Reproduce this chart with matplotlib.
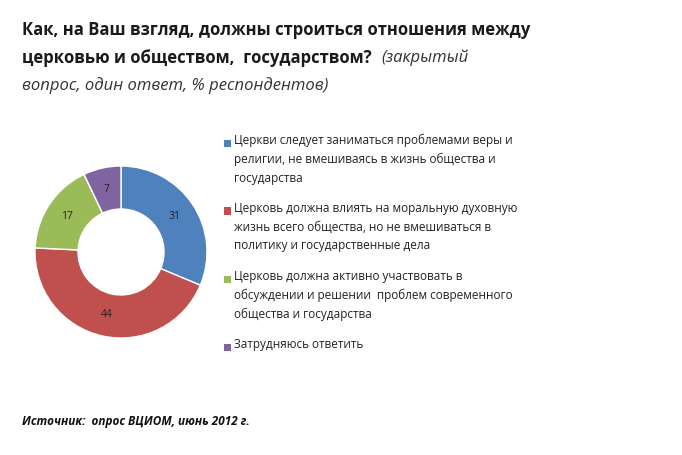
import matplotlib
matplotlib.use("Agg")
import matplotlib.pyplot as plt
from matplotlib.patches import Rectangle
import numpy as np

plt.rcParams['font.family'] = ['Open Sans', 'DejaVu Sans']

# data
values = [31, 44, 17, 7]
colors = ['#4F81BD', '#C0504D', '#9BBB59', '#8064A2']
labels = [
    "Церкви следует заниматься проблемами веры и\nрелигии, не вмешиваясь в жизнь общества и\nгосударства",
    "Церковь должна влиять на моральную духовную\nжизнь всего общества, но не вмешиваться в\nполитику и государственные дела",
    "Церковь должна активно участвовать в\nобсуждении и решении  проблем современного\nобщества и государства",
    "Затрудняюсь ответить",
]
title1 = "Как, на Ваш взгляд, должны строиться отношения между"
title2 = "церковью и обществом,  государством?"
title2_it = "(закрытый"
title3 = "вопрос, один ответ, % респондентов)"
source = "Источник:  опрос ВЦИОМ, июнь 2012 г."

W, H = 682, 455
fig = plt.figure(figsize=(W / 100, H / 100), dpi=100)
fig.patch.set_facecolor('white')

def px(x, y):
    return x / W, 1 - y / H

# donut
cx, cy, r = 121, 252, 86
ax = fig.add_axes([(cx - r) / W, (H - cy - r) / H, 2 * r / W, 2 * r / H])
wedges, _ = ax.pie(values, colors=colors, startangle=90, counterclock=False,
                   radius=1.0, wedgeprops=dict(width=0.5, edgecolor='white', linewidth=1))
ang = 90
total = sum(values)
for v in values:
    mid = np.deg2rad(ang - v / total * 180)
    ang -= v / total * 360
    ax.text(0.75 * np.cos(mid), 0.75 * np.sin(mid), str(v), ha='center', va='center',
            fontsize=7.5, color='#222222')
ax.set_xlim(-1, 1)
ax.set_ylim(-1, 1)
ax.set_aspect('equal')
ax.axis('off')

# title
tc = '#1a1a1a'
fs = 12
fig.text(*px(22, 30), title1, fontsize=fs, fontweight='bold', color=tc, va='center')
t2 = fig.text(*px(22, 58), title2, fontsize=fs, fontweight='bold', color=tc, va='center')
fig.canvas.draw()
bb = t2.get_window_extent(fig.canvas.get_renderer())
fig.text(bb.x1 / W + 10 / W, 1 - 58 / H, title2_it, fontsize=fs, style='italic', color='#333333', va='center')
fig.text(*px(22, 86), title3, fontsize=fs, style='italic', color='#333333', va='center')

# legend
y = 143
for lab, c in zip(labels, colors):
    fig.patches.append(Rectangle(px(224, y + 3.5), 7 / W, 7 / H, transform=fig.transFigure,
                                 facecolor=c, edgecolor='none'))
    fig.text(*px(234, y - 9), lab, fontsize=8.5, color='#222222', va='top',
             linespacing=1.55)
    y += 18 * (lab.count('\n') + 1) + 14

fig.text(*px(22, 421), source, fontsize=8.5, fontweight='bold', style='italic', color='#111111', va='center')

fig.savefig('out.png', dpi=100)
